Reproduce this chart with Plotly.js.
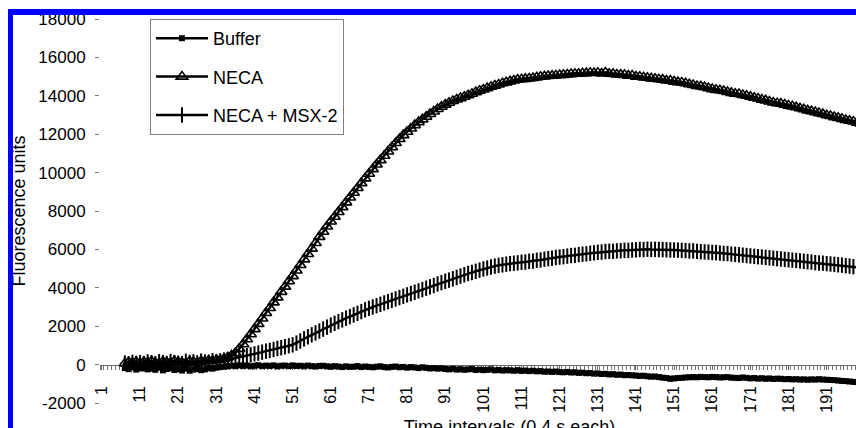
<!DOCTYPE html>
<html><head><meta charset="utf-8">
<script src="https://cdn.plot.ly/plotly-3.0.1.min.js"></script>
<style>
html,body{margin:0;padding:0;width:856px;height:428px;overflow:hidden;background:#fff;}
#chart{position:absolute;left:0;top:0;width:940px;height:445px;}
.mask{position:absolute;background:#fff;}
.blue{position:absolute;background:#0000ff;}
</style></head><body>
<div id="chart"></div>
<div class="mask" style="left:0;top:0;width:856px;height:9px"></div>
<div class="mask" style="left:0;top:0;width:8px;height:428px"></div>
<div class="blue" style="left:8px;top:9px;width:848px;height:6px"></div>
<div class="blue" style="left:8px;top:9px;width:5px;height:419px"></div>
<script>
// Time interval index (category 1..200)
const intervals = Array.from({length: 200}, (_, i) => i + 1);

const seriesNames = ['Buffer', 'NECA', 'NECA + MSX-2'];

const buffer = [
  null,null,null,null,null,null,
  -180,-240,-150,-260,-200,-130,-250,-210,-270,-160,-300,-230,-190,-280,-240,-310,-210,-320,-260,-230,-290,-250,-190,-210,-160,-130,-110,-90,
  -60,-80,-40,-70,-50,-90,-60,-30,-80,-50,-70,-40,-90,-60,-50,-80,-40,-70,-60,-90,-50,-80,-100,-70,-60,-90,
  -110,-80,-100,-130,-90,-120,-110,-80,-130,-100,-120,-140,-110,-90,-130,-150,-120,-100,-140,-120,-160,-130,-150,-180,-140,-170,-200,-180,-210,-190,
  -230,-250,-220,-260,-240,-270,-250,-230,-280,-260,-290,-270,-250,-300,-280,-310,-290,-300,-320,-290,-330,-310,-340,-320,-350,-340,-370,-360,-380,-360,
  -390,-400,-380,-410,-400,-430,-420,-450,-440,-470,-460,-490,-480,-510,-500,-530,-520,-550,-540,-560,-570,-590,-580,-610,-630,-620,-650,-680,-700,-740,
  -720,-700,-690,-670,-660,-650,-660,-640,-650,-660,-640,-650,-670,-660,-650,-680,-690,-700,-670,-690,-720,-700,-730,-710,-740,-720,-750,-730,-740,-760,
  -750,-770,-760,-780,-770,-790,-770,-780,-760,-780,-790,-800,-810,-830,-850,-860,-880,-900,-910,-930
];

const neca = [
  null,null,null,null,null,null,
  60,130,90,150,70,140,100,170,110,70,160,120,90,190,140,110,70,170,150,100,190,160,210,190,240,250,310,380,
  480,600,820,1060,1320,1580,1850,2120,2400,2690,2950,3240,3500,3790,4060,4340,
  4610,4900,5190,5480,5760,6040,6330,6650,6920,7190,
  7450,7700,7950,8200,8450,8700,8950,9200,9450,9700,9940,10180,10420,10650,10880,11100,11320,11540,11750,11950,
  12130,12300,12470,12630,12770,12910,13050,13180,13310,13430,13540,13640,13730,13810,13880,13950,14030,14110,14190,14260,14330,14400,14470,14530,14590,14650,14700,14750,14800,14840,
  14860,14880,14900,14930,14960,14990,15010,15030,15050,15060,15080,15090,15110,15130,15150,15150,15170,15180,15200,15190,
  15200,15160,15210,15150,15140,15110,15100,15090,15050,15060,15000,14990,14960,14940,14910,14890,14860,14840,14800,14790,
  14740,14710,14690,14650,14600,14560,14510,14490,14450,14400,14350,14310,14290,14250,14200,14150,14110,14090,14040,14000,
  13950,13900,13860,13800,13760,13700,13650,13610,13590,13540,13490,13450,13400,13350,13300,13240,13200,13150,13100,13050,
  12990,12950,12890,12850,12800,12740,12700,12660,12600,12550
];

const necaMsx2 = [
  null,null,null,null,null,null,
  80,30,120,60,100,40,140,90,50,150,100,60,160,110,70,50,170,110,140,90,180,140,120,200,160,190,230,220,
  300,340,380,420,470,510,560,600,650,700,740,790,840,880,930,980,
  1030,1120,1230,1340,1450,1550,1650,1750,1850,1950,2060,2150,2240,2330,2420,2500,2590,2670,2760,2850,
  2930,3000,3070,3140,3210,3280,3350,3420,3490,3560,3630,3700,3770,3840,3910,3980,4050,4120,4200,4270,
  4340,4400,4470,4540,4610,4680,4750,4800,4860,4920,4980,5030,5080,5130,5170,5200,5230,5260,5280,5300,
  5330,5340,5380,5390,5430,5450,5490,5520,5540,5580,5600,5620,5650,5680,5690,5730,5750,5770,5800,5820,
  5850,5860,5890,5900,5900,5920,5930,5950,5950,5970,5980,6000,5990,6010,6000,6000,5990,5990,5980,5970,
  5970,5960,5950,5940,5920,5920,5900,5880,5870,5860,5840,5830,5810,5790,5780,5760,5740,5720,5700,5680,
  5660,5640,5620,5600,5580,5560,5540,5520,5500,5480,5460,5440,5420,5400,5380,5360,5340,5310,5290,5280,
  5260,5240,5220,5200,5180,5150,5130,5100,5080,5050
];

const xTickVals = [1,11,21,31,41,51,61,71,81,91,101,111,121,131,141,151,161,171,181,191];
const xTickText = ['1','11','21','31','41','51','61','71','81','91','101','111','121','131','141','151','161','171','181','191'];
const yTickVals = [-2000,0,2000,4000,6000,8000,10000,12000,14000,16000,18000];
const yTickText = ['-2000','0','2000','4000','6000','8000','10000','12000','14000','16000','18000'];

const traces = [
  {x: intervals, y: buffer, name: seriesNames[0], legendgroup: 'a', mode: 'lines+markers',
   line: {color: '#000', width: 2.5},
   marker: {symbol: 'square', size: 6, color: '#000'}},
  {x: intervals, y: neca, name: seriesNames[1], legendgroup: 'b', mode: 'lines+markers',
   line: {color: '#000', width: 2.5},
   marker: {symbol: 'triangle-up-open', size: 10, color: '#000', line: {color: '#000', width: 1.6}}},
  {x: intervals, y: necaMsx2, name: seriesNames[2], legendgroup: 'c', mode: 'lines+markers',
   line: {color: '#000', width: 2.5},
   marker: {symbol: 'line-ns-open', size: 11, color: '#000', line: {color: '#000', width: 2}}}
];

const layout = {
  width: 940, height: 445,
  margin: {l: 100, r: 21, t: 19, b: 42},
  paper_bgcolor: '#fff', plot_bgcolor: '#fff',
  font: {family: '"Liberation Sans", Arial, sans-serif', color: '#000', size: 17},
  showlegend: true,
  legend: {x: 0.061, y: 1, xanchor: 'left', yanchor: 'top', bgcolor: '#fff',
           bordercolor: '#808080', borderwidth: 1, font: {size: 18},
           tracegroupgap: 12, itemwidth: 52},
  xaxis: {
    range: [0.5, 215.2], anchor: 'free', position: 0.1,
    tickmode: 'array', tickvals: xTickVals, ticktext: xTickText, tickangle: -90,
    ticks: 'outside', ticklen: 4, tickcolor: '#666', tickwidth: 1,
    minor: {tickmode: 'linear', dtick: 1, tick0: 0.5, ticks: 'outside', ticklen: 4, tickcolor: '#777', showgrid: false},
    showline: true, linecolor: '#666', linewidth: 1, showgrid: false, zeroline: false,
    tickfont: {size: 16}, ticklabelstandoff: 10, layer: 'below traces',
    title: {text: 'Time intervals (0.4 s each)', font: {size: 18}, standoff: 8}
  },
  yaxis: {
    range: [-2000, 18000], tickmode: 'array', tickvals: yTickVals, ticktext: yTickText,
    ticks: 'outside', ticklen: 4, tickcolor: '#777',
    showline: false, showgrid: false, zeroline: false,
    tickfont: {size: 17}, ticklabelstandoff: 6,
    title: {text: 'Fluorescence units', font: {size: 18}, standoff: 8}
  }
};

Plotly.newPlot('chart', traces, layout, {staticPlot: true, displayModeBar: false});
</script>
</body></html>
